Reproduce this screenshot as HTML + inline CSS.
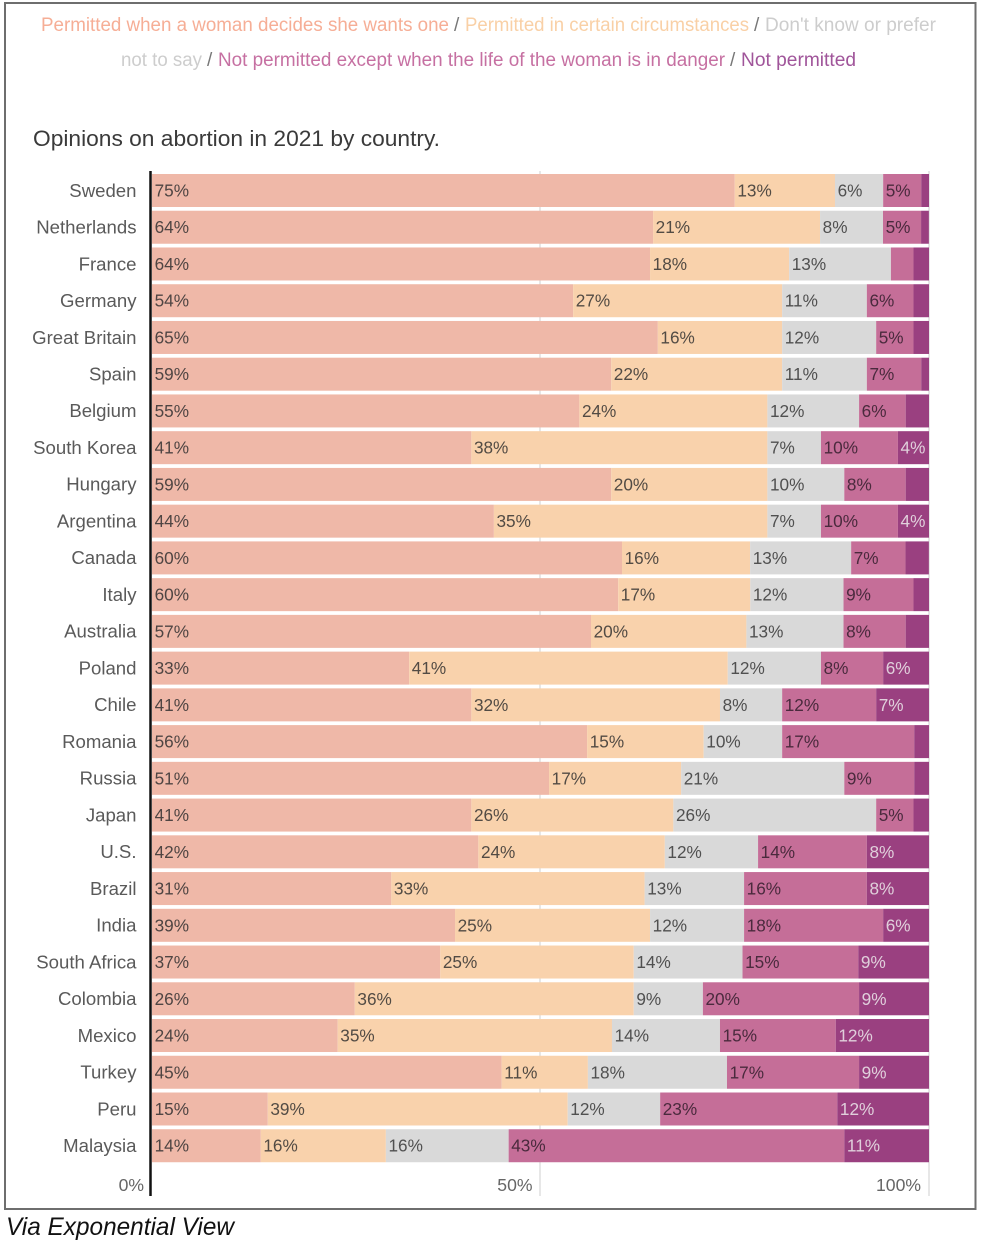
<!DOCTYPE html>
<html>
<head>
<meta charset="utf-8">
<title>Opinions on abortion in 2021 by country</title>
<style>
html,body{margin:0;padding:0;background:#fff;width:982px;height:1246px;overflow:hidden}
svg{display:block;font-family:"Liberation Sans",sans-serif}
</style>
</head>
<body>
<svg id="chart" width="982" height="1246" viewBox="0 0 982 1246" xmlns="http://www.w3.org/2000/svg">
<rect x="5" y="3" width="970.5" height="1206" fill="#fff" stroke="#6e6e6e" stroke-width="2"/>
<g font-size="19">
<text x="41" y="31" fill="#f6ae96" textLength="408" lengthAdjust="spacingAndGlyphs">Permitted when a woman decides she wants one</text>
<text x="454" y="31" fill="#777">/</text>
<text x="465" y="31" fill="#f9d0a6" textLength="284" lengthAdjust="spacingAndGlyphs">Permitted in certain circumstances</text>
<text x="754" y="31" fill="#777">/</text>
<text x="765" y="31" fill="#cdcdcd" textLength="171" lengthAdjust="spacingAndGlyphs">Don't know or prefer</text>
<text x="121" y="66" fill="#cdcdcd" textLength="81" lengthAdjust="spacingAndGlyphs">not to say</text>
<text x="207" y="66" fill="#777">/</text>
<text x="218" y="66" fill="#c670a2" textLength="507" lengthAdjust="spacingAndGlyphs">Not permitted except when the life of the woman is in danger</text>
<text x="730" y="66" fill="#777">/</text>
<text x="741" y="66" fill="#a0559a" textLength="115" lengthAdjust="spacingAndGlyphs">Not permitted</text>
</g>
<text x="33" y="146" font-size="22.5" fill="#3a3a3a" textLength="407" lengthAdjust="spacingAndGlyphs">Opinions on abortion in 2021 by country.</text>
<g id="grid"></g>
<g id="bars"></g>
<g id="axis"></g>
<text x="6" y="1235" font-size="25" font-style="italic" fill="#111" textLength="228" lengthAdjust="spacingAndGlyphs">Via Exponential View</text>
</svg>
<script>
const countries = ["Sweden","Netherlands","France","Germany","Great Britain","Spain","Belgium","South Korea","Hungary","Argentina","Canada","Italy","Australia","Poland","Chile","Romania","Russia","Japan","U.S.","Brazil","India","South Africa","Colombia","Mexico","Turkey","Peru","Malaysia"];
const permittedOnRequest = [75,64.49,64.1,54.2,65.1,59.1,55,41.1,59.1,44,60.49,60,56.5,33.1,41.1,56,51.1,41.1,42,30.8,39,37.1,26.1,23.9,45,14.9,14];
const permittedInCircumstances = [12.9,21.49,17.9,26.9,16,22,24.2,38.1,20.1,35.2,16.49,17,20,41,32,15,17,26,24,32.6,25.1,24.9,35.9,35.3,11.1,38.6,16.1];
const dontKnow = [6.2,8.1,13.1,10.9,12.1,10.9,11.8,6.9,9.9,6.9,13,12,12.5,12,8,10.1,21,26.1,12,12.8,12.1,14,8.9,13.9,17.9,11.9,15.8];
const exceptLifeInDanger = [4.9,4.9,2.9,6,4.8,7,6,9.9,7.9,9.9,7,9,8,8,12.1,17,9,4.8,14,15.8,17.9,14.9,20.1,14.9,17,22.8,43.2];
const notPermitted = [1,1,2,2,2,1,3,4,3,4,3,2,3,5.9,6.8,1.9,1.9,2,8,8,5.9,9.1,9,12,9,11.8,10.9];
const axisTicks = [0,50,100];

const seriesValues = [permittedOnRequest,permittedInCircumstances,dontKnow,exceptLifeInDanger,notPermitted];
const seriesNames = ["permitted-on-request","permitted-in-circumstances","dont-know","life-in-danger","not-permitted"];
const seriesColors = ["#efb8a8","#f9d2ac","#d9d9d9","#c56e98","#9a4080"];
const labelColors = ["#4f4543","#524b44","#505050","#4a2a3d","#e0cfdb"];

const NS = "http://www.w3.org/2000/svg";
const xLeft = 152, xRight = 929, firstTop = 174, rowPitch = 36.74, barHeight = 33;
const xScale = v => xLeft + (xRight - xLeft) * v / 100;
const yScale = i => firstTop + rowPitch * i;

function make(tag, parentId, attrs, name) {
  const el = document.createElementNS(NS, tag);
  for (const k in attrs) el.setAttribute(k, attrs[k]);
  
  
  document.getElementById(parentId).appendChild(el);
  return el;
}

axisTicks.forEach(t => {
  if (t > 0) make('line', 'grid', {x1: xScale(t) - 0.5 * (t === 100 ? 0 : 1), x2: xScale(t) - 0.5 * (t === 100 ? 0 : 1), y1: 171, y2: 1196, stroke: '#cfcfcf', 'stroke-width': 1}, 'gridline-' + t);
});

countries.forEach((country, i) => {
  const y = yScale(i);
  const mid = y + barHeight / 2 + 6;
  const nameEl = make('text', 'axis', {x: 136.5, y: mid + 0.3, 'text-anchor': 'end', 'font-size': 18.6, fill: '#5a5a5a'}, 'country-label');
  nameEl.textContent = country;
  let cum = 0;
  seriesValues.forEach((series, s) => {
    const v = series[i];
    const x0 = xScale(cum), x1 = xScale(cum + v);
    make('rect', 'bars', {x: x0, y: y, width: x1 - x0, height: barHeight, fill: seriesColors[s]}, 'bar-' + seriesNames[s]);
    const rounded = Math.round(v);
    if (rounded >= 4) {
      const lab = make('text', 'bars', {x: x0 + 2.6, y: mid, 'font-size': 17.2, fill: labelColors[s]}, 'value-label');
      lab.textContent = rounded + '%';
    }
    cum += v;
  });
});

axisTicks.forEach(t => {
  const lab = make('text', 'axis', {x: xScale(t) - 8, y: 1191, 'text-anchor': 'end', 'font-size': 17.6, fill: '#666'}, 'x-tick-label-' + t);
  lab.textContent = t + '%';
});
make('line', 'axis', {x1: 150.5, x2: 150.5, y1: 171, y2: 1196, stroke: '#111', 'stroke-width': 2.5}, 'y-axis-line');
</script>
</body>
</html>
